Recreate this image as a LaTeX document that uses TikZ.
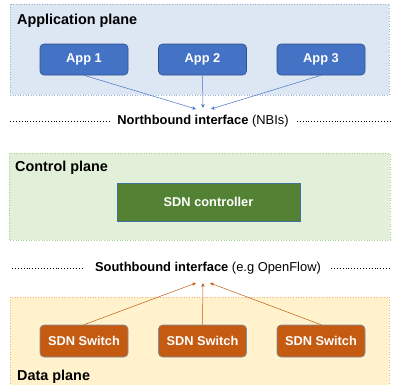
\documentclass[tikz,border=0pt]{standalone}
\usepackage{fontspec}
\setmainfont{Liberation Sans}
\usetikzlibrary{arrows.meta}
\definecolor{appfill}{HTML}{4472C4}
\definecolor{appdraw}{HTML}{2F528F}
\definecolor{aplane}{HTML}{DDE6F3}
\definecolor{aplanedraw}{HTML}{9DB3DC}
\definecolor{cplane}{HTML}{E2F0D9}
\definecolor{cplanedraw}{HTML}{A9D18E}
\definecolor{ctrlfill}{HTML}{548235}
\definecolor{ctrldraw}{HTML}{41719C}
\definecolor{dplane}{HTML}{FFF2CC}
\definecolor{dplanedraw}{HTML}{F4B183}
\definecolor{swfill}{HTML}{C55A11}
\definecolor{swdraw}{HTML}{7F8FA9}
\tikzset{
  x=1pt,y=-1pt,
  plane/.style={line width=0.6pt, dotted},
  planelabel/.style={anchor=base west, font=\fontsize{14.4}{16}\selectfont\bfseries, inner sep=0pt},
  appbox/.style={draw=appdraw, fill=appfill, rounded corners=4pt, minimum width=88pt, minimum height=31pt, text=white, font=\fontsize{12.8}{14}\selectfont\bfseries, line width=0.6pt},
  swbox/.style={draw=swdraw, fill=swfill, rounded corners=4pt, minimum width=88pt, minimum height=32pt, text=white, font=\fontsize{12.8}{14}\selectfont\bfseries, line width=0.6pt},
  ctrlbox/.style={draw=ctrldraw, fill=ctrlfill, minimum width=183pt, minimum height=38pt, text=white, font=\fontsize{12.8}{14}\selectfont\bfseries, line width=0.6pt},
  iflabel/.style={font=\fontsize{12.9}{14}\selectfont, inner sep=0pt, anchor=center},
  ifline/.style={dotted, line width=0.9pt, black},
  narrow/.style={-{Stealth[length=4pt,width=3.5pt]}, draw=appfill, line width=0.5pt},
  sarrow/.style={-{Stealth[length=4pt,width=3.5pt]}, draw=swfill, line width=0.5pt},
}
\begin{document}
\begin{tikzpicture}
\useasboundingbox (0,0) rectangle (393,384);
% Application plane
\draw[plane, draw=aplanedraw, fill=aplane] (10,4) rectangle (389,95);
\node[planelabel] (aplab) at (17,24) {Application plane};
\node[appbox] (app1) at (84,59.5) {App 1};
\node[appbox] (app2) at (202.5,59.5) {App 2};
\node[appbox] (app3) at (321,59.5) {App 3};
\coordinate (n1) at (196,109);
\coordinate (n2) at (203,108);
\coordinate (n3) at (211,109);
\draw[narrow] (app1.south) -- (n1);
\draw[narrow] (app2.south) -- (n2);
\draw[narrow] (app3.south) -- (n3);
% Northbound
\node[iflabel] (nb) at (203,121) {\textbf{Northbound interface} (NBIs)};
\coordinate (nbl) at (10,121);
\coordinate (nbr) at (390,121);
\draw[ifline] (nbl) -- ([xshift=-8pt]nb.west);
\draw[ifline] ([xshift=8pt]nb.east) -- (nbr);
% Control plane
\draw[plane, draw=cplanedraw, fill=cplane] (9,153) rectangle (390,240);
\node[planelabel] (cplab) at (15,171) {Control plane};
\node[ctrlbox] (ctrl) at (208.5,202) {SDN controller};
% Southbound
\node[iflabel] (sb) at (208,268) {\textbf{Southbound interface} (e.g OpenFlow)};
\coordinate (sbl) at (12,268);
\coordinate (sbr) at (390,268);
\draw[ifline] (sbl) -- ([xshift=-12pt]sb.west);
\draw[ifline] ([xshift=10pt]sb.east) -- (sbr);
% Data plane
\draw[plane, draw=dplanedraw, fill=dplane] (10,297) rectangle (389,390);
\node[swbox] (sw1) at (84,341) {SDN Switch};
\node[swbox] (sw2) at (202.5,341) {SDN Switch};
\node[swbox] (sw3) at (321,341) {SDN Switch};
\coordinate (s1) at (196,283);
\coordinate (s2) at (203,283);
\coordinate (s3) at (210,283);
\draw[sarrow] (sw1.north) -- (s1);
\draw[sarrow] (sw2.north) -- (s2);
\draw[sarrow] (sw3.north) -- (s3);
\node[planelabel] (dplab) at (17,380) {Data plane};
\end{tikzpicture}
\end{document}
